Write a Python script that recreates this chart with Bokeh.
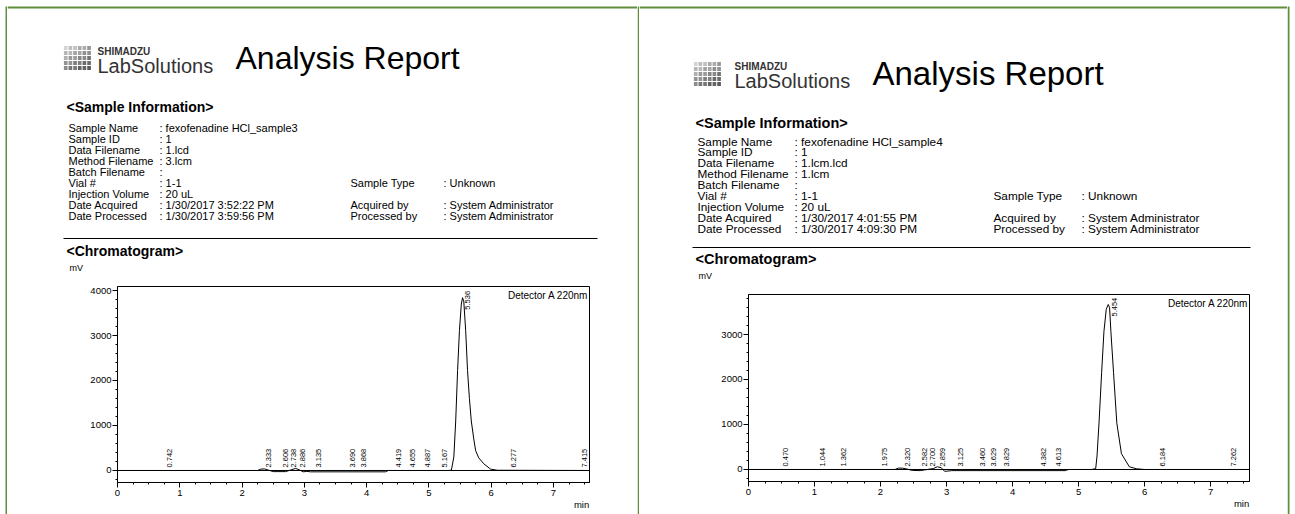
import numpy as np
from bokeh.plotting import figure
from bokeh.layouts import row, column
from bokeh.models import Range1d, FixedTicker, Label, Span
from bokeh.embed import file_html
from bokeh.resources import INLINE
from bokeh.core.properties import value

# ---------------- data ----------------
info_labels = ["Sample Name", "Sample ID", "Data Filename", "Method Filename", "Batch Filename",
               "Vial #", "Injection Volume", "Date Acquired", "Date Processed"]
info2_labels = ["Sample Type", "Acquired by", "Processed by"]
info2_rows = [5, 7, 8]

s3_values = [": fexofenadine HCl_sample3", ": 1", ": 1.lcd", ": 3.lcm", ":", ": 1-1", ": 20 uL",
             ": 1/30/2017 3:52:22 PM", ": 1/30/2017 3:59:56 PM"]
s3_values2 = [": Unknown", ": System Administrator", ": System Administrator"]

s4_values = [": fexofenadine HCl_sample4", ": 1", ": 1.lcm.lcd", ": 1.lcm", ":", ": 1-1", ": 20 uL",
             ": 1/30/2017 4:01:55 PM", ": 1/30/2017 4:09:30 PM"]
s4_values2 = [": Unknown", ": System Administrator", ": System Administrator"]

# chromatogram traces (min, mV)
s3_time = [0.0, 2.25, 2.30, 2.36, 2.42, 2.50, 2.70, 2.80, 2.86, 2.92, 2.98, 3.04, 3.10, 4.30, 4.35,
           5.30, 5.36, 5.40, 5.43, 5.46, 5.49, 5.52, 5.54, 5.56, 5.59, 5.62, 5.65, 5.68, 5.72,
           5.75, 5.80, 5.88, 5.99, 6.10, 7.58]
s3_mv = [0, 0, 30, 35, 10, -25, -25, 20, 45, 15, -30, -20, -30, -30, 0,
         0, 5, 300, 1100, 2220, 3110, 3700, 3840, 3750, 3110, 2220, 1600, 1100, 700,
         440, 280, 150, 30, 5, 0]
s3_rt = [0.742, 2.333, 2.606, 2.738, 2.886, 3.135, 3.690, 3.868, 4.419, 4.655, 4.887, 5.167,
         5.536, 6.277, 7.415]
s3_height = [0, 30, 5, 10, 45, 0, 0, 0, 0, 0, 0, 0, 3840, 0, 0]

s4_time = [0.0, 2.22, 2.27, 2.33, 2.40, 2.48, 2.60, 2.80, 2.86, 2.92, 2.97, 3.02, 3.08, 4.80, 4.85,
           5.20, 5.26, 5.28, 5.31, 5.35, 5.385, 5.42, 5.45, 5.47, 5.49, 5.53, 5.58, 5.65,
           5.77, 5.88, 6.00, 7.59]
s4_mv = [0, 0, 30, 30, 10, -20, -25, 20, 60, 40, -40, -35, -25, -25, 0,
         0, 20, 300, 1030, 2160, 3070, 3560, 3667, 3600, 3070, 2160, 1030, 350,
         60, 15, 0, 0]
s4_rt = [0.470, 1.044, 1.362, 1.975, 2.320, 2.582, 2.700, 2.859, 3.125, 3.460, 3.629, 3.829,
         4.382, 4.613, 5.454, 6.184, 7.262]
s4_height = [0, 0, 0, 0, 30, 0, 10, 60, 0, 0, 0, 0, 0, 0, 3667, 0, 0]

x_ticks = [0, 1, 2, 3, 4, 5, 6, 7]
y_ticks = [0, 1000, 2000, 3000, 4000]

# ---------------- styling ----------------
FONT = "Liberation Sans"
GREEN = "#5f8f3d"
PAGE_W, PAGE_H = 1295, 514


def blank_fig(x0, x1, y0, y1):
    p = figure(width=int(round(x1 - x0)), height=int(round(y1 - y0)),
               x_range=Range1d(x0, x1), y_range=Range1d(y1, y0),
               output_backend="svg", toolbar_location=None, title=None, min_border=0,
               x_axis_type=None, y_axis_type=None, frame_align=False)
    p.outline_line_color = None
    p.background_fill_color = "white"
    p.border_fill_color = "white"
    return p


def txt(p, x, y, s, size, bold=False, align="left", color="black"):
    p.text(x=[x], y=[y], text=[s], text_font=value(FONT), text_font_size=size,
           text_font_style="bold" if bold else "normal", text_align=align,
           text_baseline="middle", text_color=color)


def logo(p, x0, y0, w, h):
    cols, rows = 6, 5
    bw, bh = w / cols, h / rows
    L, R, T, B, C = [], [], [], [], []
    for j in range(rows):
        for i in range(cols):
            g = int(200 - 18 * j - 10 * i + (12 if (i + j) % 2 == 0 else 0))
            g = max(90, min(215, g))
            L.append(x0 + i * bw + 0.4)
            R.append(x0 + (i + 1) * bw - 0.6)
            T.append(y0 + j * bh + 0.5)
            B.append(y0 + (j + 1) * bh - 0.5)
            C.append("#%02x%02x%02x" % (g, g, g))
    p.quad(left=L, right=R, top=T, bottom=B, fill_color=C, line_color=None)


def header(x0, x1, y1, g):
    p = blank_fig(x0, x1, 0, y1)
    # top green border
    p.quad(left=[x0], right=[x1], top=[6], bottom=[8], fill_color=GREEN, line_color=None)
    logo(p, g["logo"][0], g["logo"][1], g["logo"][2], g["logo"][3])
    txt(p, g["brand_x"], g["shim_y"], "SHIMADZU", g["shim_fs"], bold=True, color="#333333")
    txt(p, g["brand_x"], g["lab_y"], "LabSolutions", g["lab_fs"], color="#333333")
    txt(p, g["title_x"], g["title_y"], "Analysis Report", g["title_fs"])
    txt(p, g["sec_x"], g["sec_y"], "<Sample Information>", g["sec_fs"], bold=True)
    ys = [g["row_y0"] + g["row_dy"] * i for i in range(len(info_labels))]
    p.text(x=[g["c1"]] * len(ys), y=ys, text=info_labels, text_font=value(FONT),
           text_font_size=g["row_fs"], text_baseline="middle", text_color="black")
    p.text(x=[g["c2"]] * len(ys), y=ys, text=g["values"], text_font=value(FONT),
           text_font_size=g["row_fs"], text_baseline="middle", text_color="black")
    ys2 = [ys[r] for r in info2_rows]
    p.text(x=[g["c3"]] * 3, y=ys2, text=info2_labels, text_font=value(FONT),
           text_font_size=g["row_fs"], text_baseline="middle", text_color="black")
    p.text(x=[g["c4"]] * 3, y=ys2, text=g["values2"], text_font=value(FONT),
           text_font_size=g["row_fs"], text_baseline="middle", text_color="black")
    p.segment(x0=[g["rule_x0"]], x1=[g["rule_x1"]], y0=[g["rule_y"]], y1=[g["rule_y"]],
              line_color="black", line_width=1.2)
    txt(p, g["sec_x"], g["chrom_y"], "<Chromatogram>", g["sec_fs"], bold=True)
    txt(p, g["mv_x"], g["mv_y"], "mV", "9px")
    return p


def chart(px0, px1, fy0, fl, fr, ft, fb, xmax, ymin, ymax, t, mv, rts, heights):
    W = px1 - px0
    H = PAGE_H - fy0
    p = figure(width=W, height=H, x_range=Range1d(0, xmax), y_range=Range1d(ymin, ymax),
               output_backend="svg", toolbar_location=None, title=None, frame_align=False,
               min_border_left=fl - px0, min_border_right=px1 - fr,
               min_border_top=ft - fy0, min_border_bottom=PAGE_H - fb)
    p.background_fill_color = "white"
    p.border_fill_color = "white"
    p.outline_line_color = "black"
    p.outline_line_width = 1
    p.xgrid.visible = False
    p.ygrid.visible = False
    p.xaxis.ticker = FixedTicker(ticks=x_ticks,
                                 minor_ticks=[i * 0.25 for i in range(0, 31)])
    p.yaxis.ticker = FixedTicker(ticks=y_ticks,
                                 minor_ticks=[i * 200 for i in range(-1, 21)])
    for ax in (p.xaxis[0], p.yaxis[0]):
        ax.axis_line_color = "black"
        ax.major_tick_line_color = "black"
        ax.minor_tick_line_color = "black"
        ax.major_tick_out = 5
        ax.major_tick_in = 0
        ax.minor_tick_out = 2
        ax.minor_tick_in = 0
        ax.major_label_text_font = FONT
        ax.major_label_text_font_size = "9.5px"
        ax.major_label_text_color = "black"
    p.yaxis[0].major_label_standoff = 1
    xa = p.xaxis[0]
    xa.major_label_standoff = 2
    # non-breaking spaces keep the centred axis label's "min" left of the frame end
    xa.axis_label = "min" + "\u00a0" * 6
    xa.axis_label_text_font = FONT
    xa.axis_label_text_font_size = "9.5px"
    xa.axis_label_text_font_style = "normal"
    xa.axis_label_text_color = "black"
    xa.axis_label_standoff = 0
    done = False
    for v in ("end", "right"):
        if done:
            break
        try:
            xa.axis_label_align = v
            done = True
        except Exception:
            pass

    p.add_layout(Span(location=0, dimension="width", line_color="black", line_width=1))
    p.line(t, mv, line_color="black", line_width=1)

    labels = ["%.3f" % v for v in rts]
    ly = [h if h > 1000 else 0 for h in heights]
    yoff = [12 if h > 1000 else -3 for h in heights]
    p.text(x=rts, y=ly, text=labels, angle=np.pi / 2, text_align="left",
           text_baseline="top", x_offset=3, y_offset=yoff, text_font=value(FONT),
           text_font_size="7.5px", text_color="black")

    p.add_layout(Label(x=xmax, y=ymax, x_offset=-1, y_offset=-3, text="Detector A 220nm",
                       text_align="right", text_baseline="top", text_font=FONT,
                       text_font_size="10px", text_color="black"))
    return p


def green_bar(x0, x1, gx0, gx1):
    p = blank_fig(x0, x1, 0, PAGE_H)
    p.quad(left=[gx0], right=[gx1], top=[6], bottom=[PAGE_H], fill_color=GREEN, line_color=None)
    return p


g_left = dict(logo=(63, 45, 28, 25), brand_x=97, shim_y=51, shim_fs="10px", lab_y=65,
              lab_fs="20px", title_x=235, title_y=57, title_fs="32px",
              sec_x=66, sec_y=106, sec_fs="14px", row_y0=127, row_dy=11.1, row_fs="11px",
              c1=68, c2=159, c3=350, c4=443, values=s3_values, values2=s3_values2,
              rule_x0=63, rule_x1=597, rule_y=238, chrom_y=250, mv_x=69, mv_y=267)
g_right = dict(logo=(693, 61, 28, 25), brand_x=734, shim_y=66, shim_fs="10px", lab_y=80,
               lab_fs="20px", title_x=872, title_y=73, title_fs="33px",
               sec_x=695, sec_y=122, sec_fs="14.5px", row_y0=141, row_dy=10.9, row_fs="11.8px",
               c1=697, c2=794, c3=993, c4=1081, values=s4_values, values2=s4_values2,
               rule_x0=692, rule_x1=1250, rule_y=247, chrom_y=258, mv_x=698, mv_y=275)

h_left = header(7, 637, 281, g_left)
c_left = chart(7, 637, 281, 117, 589, 286, 482, 7.578, -267, 4089,
               s3_time, s3_mv, s3_rt, s3_height)
h_right = header(639, 1287, 289, g_right)
c_right = chart(639, 1287, 289, 748, 1249, 294, 481, 7.59, -267, 3889,
                s4_time, s4_mv, s4_rt, s4_height)

layout = row(green_bar(0, 7, 5, 7), column(h_left, c_left, spacing=0), green_bar(637, 639, 637, 639),
             column(h_right, c_right, spacing=0), green_bar(1287, 1295, 1287, 1289), spacing=0)

open("out.html", "w").write(file_html(layout, INLINE))
